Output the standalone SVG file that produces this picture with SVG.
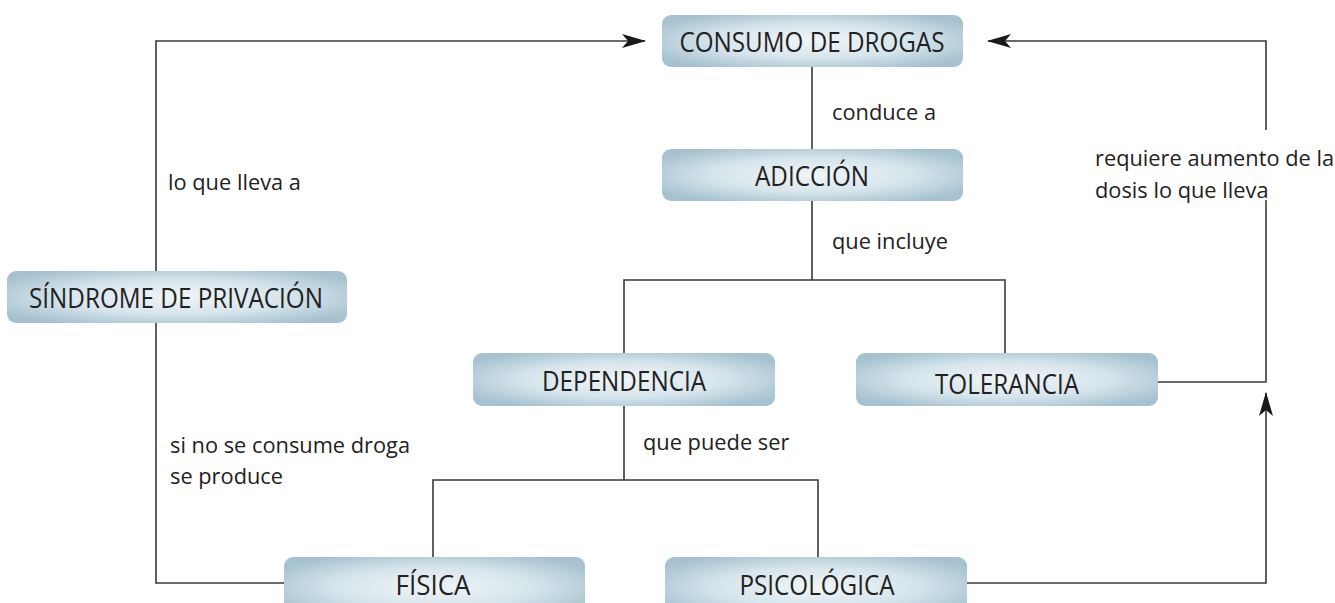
<svg xmlns="http://www.w3.org/2000/svg" width="1335" height="603" viewBox="0 0 1335 603">
<defs>
<radialGradient id="g" cx="50%" cy="50%" r="60%">
<stop offset="0" stop-color="#f0f5f8"/>
<stop offset="0.55" stop-color="#d6e5ec"/>
<stop offset="1" stop-color="#a6c2d0"/>
</radialGradient>
<marker id="ah" markerUnits="userSpaceOnUse" markerWidth="24" markerHeight="14" refX="23" refY="7" orient="auto">
<path d="M0,0 L24,7 L0,14 L6,7 z" fill="#1a1a1a"/>
</marker>
<style>
.box{fill:url(#g);}
.nt{font-family:"Open Sans","Noto Sans",sans-serif;font-size:27px;fill:#222;text-anchor:middle;}
.lt{font-family:"Open Sans","Noto Sans",sans-serif;font-size:21.8px;fill:#222;}
.ln{fill:none;stroke:#3a3a3a;stroke-width:1.6;}
</style>
</defs>
<rect width="1335" height="603" fill="#fff"/>
<g id="connectors">
<path class="ln" d="M812,67 V149"/>
<path class="ln" d="M812,201 V280 M624,353 V280 H1005 V353"/>
<path class="ln" d="M624,406 V480 M433,557 V480 H818 V557"/>
<path class="ln" d="M156,271 V41 H645" marker-end="url(#ah)"/>
<path class="ln" d="M156,323 V583 H284"/>
<path class="ln" d="M1158,382 H1266 V200"/>
<path class="ln" d="M1266,130 V41 H988" marker-end="url(#ah)"/>
<path class="ln" d="M967,583 H1266 V393" marker-end="url(#ah)"/>
<text class="lt" x="832" y="120">conduce a</text>
<text class="lt" x="832" y="249">que incluye</text>
<text class="lt" x="643" y="450">que puede ser</text>
<text class="lt" x="168" y="190">lo que lleva a</text>
<text class="lt" x="170" y="453">si no se consume droga</text>
<text class="lt" x="170" y="484">se produce</text>
<text class="lt" x="1095" y="166">requiere aumento de la</text>
<text class="lt" x="1095" y="198">dosis lo que lleva</text>
</g>
<g id="consumo"><rect class="box" x="662" y="15" width="301" height="52" rx="9"/><text class="nt" x="812" y="52" textLength="265" lengthAdjust="spacingAndGlyphs">CONSUMO DE DROGAS</text></g>
<g id="adiccion"><rect class="box" x="662" y="149" width="301" height="52" rx="9"/><text class="nt" x="812" y="186" textLength="114" lengthAdjust="spacingAndGlyphs">ADICCIÓN</text></g>
<g id="sindrome"><rect class="box" x="7" y="271" width="340" height="52" rx="9"/><text class="nt" x="176" y="308" textLength="294" lengthAdjust="spacingAndGlyphs">SÍNDROME DE PRIVACIÓN</text></g>
<g id="dependencia"><rect class="box" x="473" y="353" width="302" height="53" rx="9"/><text class="nt" x="624" y="391" textLength="164" lengthAdjust="spacingAndGlyphs">DEPENDENCIA</text></g>
<g id="tolerancia"><rect class="box" x="856" y="353" width="302" height="53" rx="9"/><text class="nt" x="1007" y="394" textLength="144" lengthAdjust="spacingAndGlyphs">TOLERANCIA</text></g>
<g id="fisica"><rect class="box" x="284" y="557" width="301" height="60" rx="9"/><text class="nt" x="433" y="595" textLength="75" lengthAdjust="spacingAndGlyphs">FÍSICA</text></g>
<g id="psicologica"><rect class="box" x="665" y="557" width="302" height="60" rx="9"/><text class="nt" x="817" y="595" textLength="155" lengthAdjust="spacingAndGlyphs">PSICOLÓGICA</text></g>
</svg>
